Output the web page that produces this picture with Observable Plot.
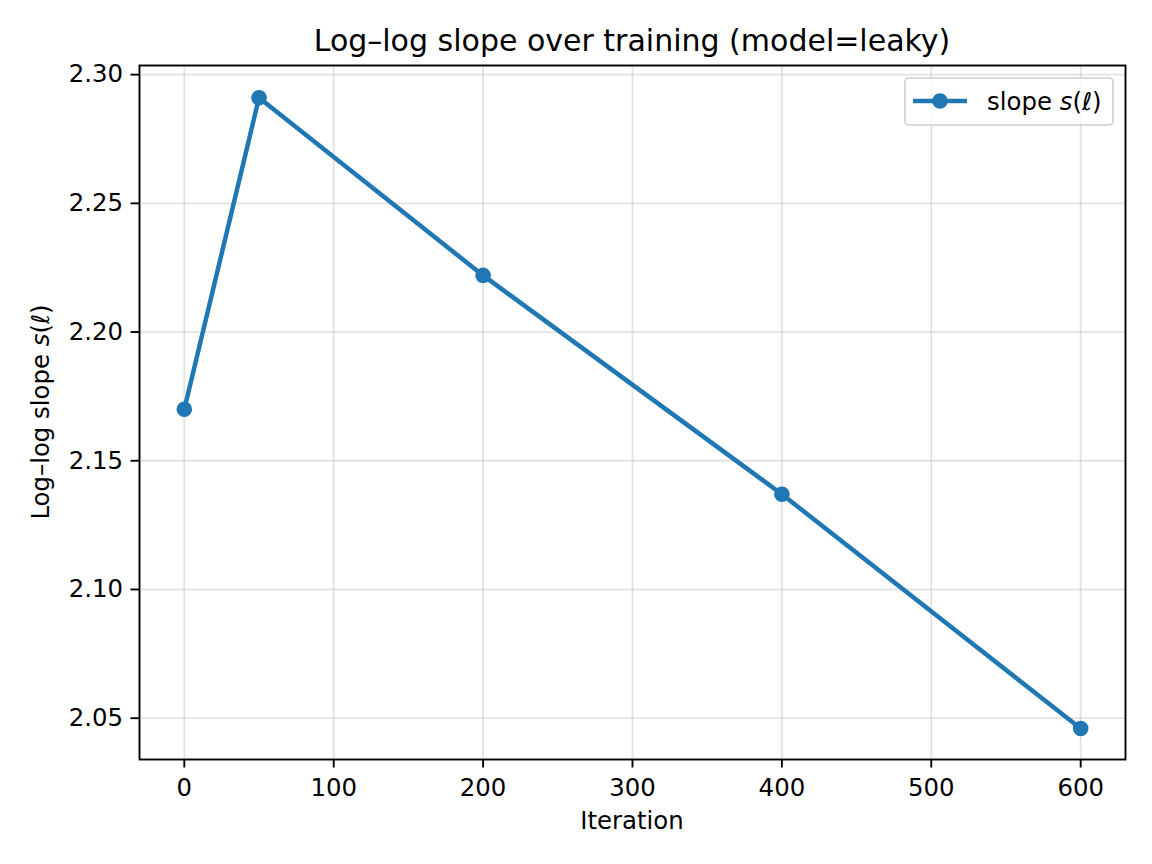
<!DOCTYPE html>
<html><head><meta charset="utf-8">
<script src="https://cdn.jsdelivr.net/npm/d3@7"></script>
<script src="https://cdn.jsdelivr.net/npm/@observablehq/plot@0.6"></script>
<style>body{margin:0;background:#fff} #wrap{position:relative;width:1152px;height:864px}</style>
</head><body><div id="wrap"></div>
<script>
const iterations = [0, 50, 200, 400, 600];
const slopes = [2.170, 2.291, 2.222, 2.137, 2.046];
const xTicks = [0, 100, 200, 300, 400, 500, 600];
const yTicks = [2.05, 2.10, 2.15, 2.20, 2.25, 2.30];
const titleText = "Log\u2013log slope over training (model=leaky)";
const xLabel = "Iteration";
const seriesName = "slope";

const data = iterations.map((x, i) => ({x, y: slopes[i]}));
const color = "#1f77b4";
const font = "'DejaVu Sans', sans-serif";
const W = 1152, H = 864, mL = 139, mR = 27, mT = 65, mB = 105;

const plot = Plot.plot({
  width: W, height: H, marginLeft: mL, marginRight: mR, marginTop: mT, marginBottom: mB,
  style: {fontFamily: font, fontSize: "24.4px", background: "#fff", color: "#000"},
  x: {domain: [-30, 630]},
  y: {domain: [2.03395, 2.30355]},
  marks: [
    Plot.gridX(xTicks, {stroke: "#b0b0b0", strokeOpacity: 0.35, strokeWidth: 1.8}),
    Plot.gridY(yTicks, {stroke: "#b0b0b0", strokeOpacity: 0.35, strokeWidth: 1.8}),
    Plot.axisX(xTicks, {tickSize: 8.5, tickPadding: 10.5, strokeWidth: 1.9, label: null, tickFormat: d => String(d), fontSize: 24.4}),
    Plot.axisY(yTicks, {tickSize: 8.5, tickPadding: 8, strokeWidth: 1.9, label: null, tickFormat: d3.format(".2f"), fontSize: 24.4}),
    Plot.line(data, {x: "x", y: "y", stroke: color, strokeWidth: 4.5}),
    Plot.dot(data, {x: "x", y: "y", r: 7.8, fill: color, stroke: "none"}),
    Plot.frame({stroke: "#000", strokeWidth: 1.9})
  ]
});
document.getElementById("wrap").appendChild(plot);

const svg = d3.select(plot);
const cx = mL + (W - mL - mR) / 2;
function txt(sel, size, anchor) {
  return sel.append("text").style("font-family", font).style("font-size", size + "px")
    .style("fill", "#000").style("text-anchor", anchor);
}
// title
txt(svg, 30, "middle").attr("x", cx).attr("y", 51).text(titleText);
// x label
txt(svg, 24.4, "middle").attr("x", cx).attr("y", 829).text(xLabel);
// y label
const yl = txt(svg, 24.4, "middle").attr("transform", `translate(49,${mT + (H - mT - mB) / 2}) rotate(-90)`);
yl.append("tspan").text("Log\u2013log slope ");
yl.append("tspan").style("font-style", "italic").text("s");
yl.append("tspan").text("(");
yl.append("tspan").style("font-style", "italic").text("\u2113");
yl.append("tspan").text(")");
// legend
const lg = svg.append("g");
lg.append("rect").attr("x", 905).attr("y", 78).attr("width", 208).attr("height", 47)
  .attr("rx", 4).attr("fill", "#fff").attr("fill-opacity", 0.8).attr("stroke", "#d0d0d0").attr("stroke-width", 1.7);
lg.append("line").attr("x1", 913).attr("x2", 967).attr("y1", 101).attr("y2", 101)
  .attr("stroke", color).attr("stroke-width", 4.5);
lg.append("circle").attr("cx", 940).attr("cy", 101).attr("r", 7.8).attr("fill", color);
const lt = txt(lg, 24.4, "start").attr("x", 987).attr("y", 110);
lt.append("tspan").text(seriesName + " ");
lt.append("tspan").style("font-style", "italic").text("s");
lt.append("tspan").text("(");
lt.append("tspan").style("font-style", "italic").text("\u2113");
lt.append("tspan").text(")");
</script>
</body></html>
